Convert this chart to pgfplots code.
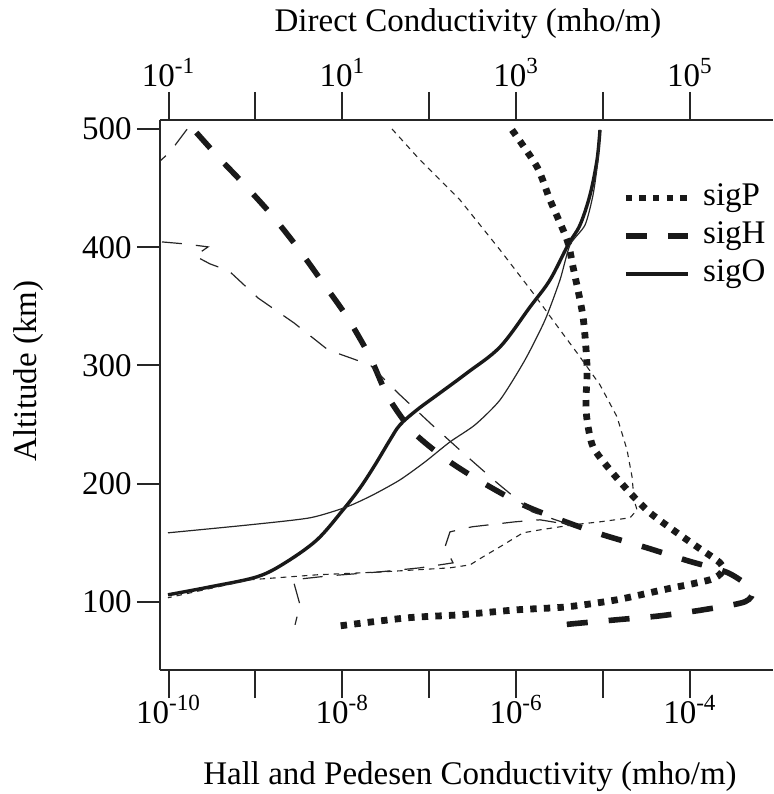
\documentclass[border=0pt]{standalone}
\usepackage{fontspec}
\setmainfont{Liberation Serif}
\usepackage{pgfplots}
\pgfplotsset{compat=1.18}

\newcommand{\fs}{\fontsize{16.5}{19.8}\selectfont}

\tikzset{
  sigPthick/.style={black!90, line width=3.4pt, dash pattern=on 3.2pt off 3.6pt},
  sigHthick/.style={black!90, line width=2.8pt, dash pattern=on 10.5pt off 10.5pt},
  sigOthick/.style={black!90, line width=1.7pt, line join=round},
  sigPthin/.style={black!85, line width=0.55pt, dash pattern=on 2.8pt off 2.5pt},
  sigHthin/.style={black!85, line width=0.6pt, dash pattern=on 10pt off 7pt},
  sigOthin/.style={black!85, line width=0.6pt, line join=round},
}

\begin{document}
\begin{tikzpicture}
\useasboundingbox (-80pt,-62pt) rectangle (306.5pt,335pt);

% bottom / left axis: Hall and Pedersen conductivity (log10 values)
\begin{axis}[
  at={(0,0)}, anchor=south west,
  width=306.5pt, height=275pt, scale only axis,
  xmin=-10.098, xmax=-3.044, ymin=42.5, ymax=507.6,
  axis x line*=bottom, axis y line*=left,
  axis line style={line width=1pt, black!85},
  tick align=outside,
  major tick length=11.5pt,
  xtick style={line width=1pt, black!85, /pgfplots/major tick length=14pt},
  ytick style={line width=1pt, black!85},
  xtick={-10,-9,-8,-7,-6,-5,-4},
  xticklabels={10\textsuperscript{-10},,10\textsuperscript{-8},,10\textsuperscript{-6},,10\textsuperscript{-4}},
  ytick={100,200,300,400,500},
  yticklabels={100,200,300,400,500},
  xticklabel style={font=\fs, inner sep=0pt, yshift=-1pt},
  yticklabel style={font=\fs, inner sep=2.5pt},
  xlabel={Hall and Pedesen Conductivity (mho/m)},
  xlabel style={font=\fs, at={(axis description cs:0.5057,-0.2073)}, anchor=base},
  ylabel={Altitude (km)},
  ylabel style={font=\fs, at={(axis description cs:-0.2007,0.5436)}, anchor=base},
  legend style={draw=none, fill=none, font=\fs, inner sep=0pt,
    at={(axis description cs:0.7537,0.789)}, anchor=west, row sep=4.5pt,
    nodes={inner sep=0pt, text height=11pt, text depth=3.5pt}},
  legend cell align=left,
  legend image code/.code={\draw[#1] (0pt,0pt) -- (31pt,0pt); \path (37pt,0pt);},
]
% daytime (thick)
\addplot[sigPthick, smooth, tension=0.45] coordinates {
 (-6.047,499.2) (-5.759,467.9) (-5.610,440.0) (-5.414,406.2) (-5.345,383.3)
 (-5.230,341.1) (-5.184,298.8) (-5.196,270.9) (-5.184,254.0) (-5.115,231.2)
 (-4.919,211.7) (-4.689,192.3) (-4.459,175.4) (-4.148,158.5) (-3.918,146.7)
 (-3.654,133.1) (-3.631,125.5) (-3.769,118.8) (-4.310,110.3) (-4.839,101.9)
 (-5.414,95.9) (-5.990,93.4) (-6.646,89.2) (-7.255,86.6) (-8.020,79.9)
};
\addlegendentry{sigP}
\addplot[sigHthick, smooth, tension=0.45] coordinates {
 (-9.680,497.0) (-9.407,474.6) (-9.177,456.9) (-8.832,429.0)
 (-8.521,400.3) (-8.222,369.8) (-7.946,341.1) (-7.681,307.3) (-7.474,273.5)
 (-7.186,243.9) (-6.795,220.2) (-6.381,200.8) (-5.921,182.2) (-5.460,168.6)
 (-5.000,156.8) (-4.494,145.8) (-4.022,134.8) (-3.562,124.7) (-3.285,110.3)
 (-3.366,100.2) (-3.849,93.4) (-4.344,88.3) (-4.839,85.0) (-5.345,81.6)
 (-5.460,80.7)
};
\addlegendentry{sigH}
\addplot[sigOthick, smooth, tension=0.55] coordinates {
 (-5.035,499.2) (-5.069,473.8) (-5.150,444.2) (-5.265,418.8) (-5.403,401.9)
 (-5.610,372.4) (-5.840,349.5) (-6.185,315.7) (-6.565,293.7) (-6.876,276.8)
 (-7.140,262.5) (-7.336,249.8) (-7.451,237.1) (-7.624,215.9) (-7.796,196.5)
 (-7.992,177.9) (-8.291,152.6) (-8.659,133.1) (-8.982,121.3) (-9.522,112.8)
 (-10.006,106.1)
};
\addlegendentry{sigO}
% nighttime (thin)
\addplot[sigPthin, forget plot] coordinates {
 (-7.428,500.0) (-7.106,473.8) (-6.646,440.0) (-6.185,397.7) (-5.806,361.4)
 (-5.495,330.1) (-5.299,310.7) (-5.035,283.6) (-4.839,256.6) (-4.724,228.7)
 (-4.666,205.8) (-4.643,186.4) (-4.609,177.9) (-4.689,171.2) (-5.035,167.8)
 (-5.345,165.3) (-5.725,161.0) (-5.921,158.5) (-6.185,146.7) (-6.381,138.2)
 (-6.530,131.4) (-6.761,128.9) (-7.532,125.5) (-8.291,123.0) (-9.062,118.8)
 (-10.006,103.6)
};
\addplot[sigHthin, forget plot] coordinates {
 (-10.200,466.0) (-9.983,480.6) (-9.776,500.8)
};
\addplot[sigHthin, forget plot] coordinates {
 (-10.075,404.5) (-9.810,402.8) (-9.545,400.3) (-9.695,392.6) (-9.522,385.9)
 (-9.304,380.0) (-8.970,357.1) (-8.556,336.0) (-8.165,313.2) (-7.681,300.5)
 (-7.509,287.8) (-7.336,275.1) (-6.968,249.8) (-6.611,226.1) (-6.220,200.8)
 (-5.817,176.3) (-5.380,165.3) (-5.725,169.5) (-6.013,167.8) (-6.507,163.6)
 (-6.761,159.3) (-6.818,146.7) (-6.726,133.1) (-7.106,128.9) (-7.566,125.5)
 (-8.142,122.2) (-8.567,118.8) (-8.487,97.6) (-8.544,80.7)
};
\addplot[sigOthin, smooth, tension=0.4, forget plot] coordinates {
 (-5.035,499.2) (-5.058,473.8) (-5.115,444.2) (-5.207,418.8) (-5.380,401.9)
 (-5.495,372.4) (-5.667,338.5) (-5.898,304.7) (-6.185,270.9) (-6.473,249.8)
 (-6.761,235.4) (-7.048,218.5) (-7.336,203.3) (-7.647,190.6) (-7.946,180.5)
 (-8.372,171.2) (-9.062,165.3) (-10.006,158.5)
};
\end{axis}

% top axis: direct conductivity
\begin{axis}[
  at={(0,0)}, anchor=south west,
  width=306.5pt, height=275pt, scale only axis,
  xmin=-10.098, xmax=-3.044, ymin=42.5, ymax=507.6,
  axis x line*=top, axis y line=none,
  axis line style={line width=1pt, black!85},
  tick align=outside, major tick length=14pt,
  xtick style={line width=1pt, black!85},
  xtick={-10,-9,-8,-7,-6,-5,-4},
  xticklabels={10\textsuperscript{-1},,10\textsuperscript{1},,10\textsuperscript{3},,10\textsuperscript{5}},
  xticklabel style={font=\fs, inner sep=0pt, yshift=2.5pt},
  xlabel={Direct Conductivity (mho/m)},
  xlabel style={font=\fs, at={(axis description cs:0.5025,1.16)}, anchor=base},
]
\end{axis}
\end{tikzpicture}
\end{document}
